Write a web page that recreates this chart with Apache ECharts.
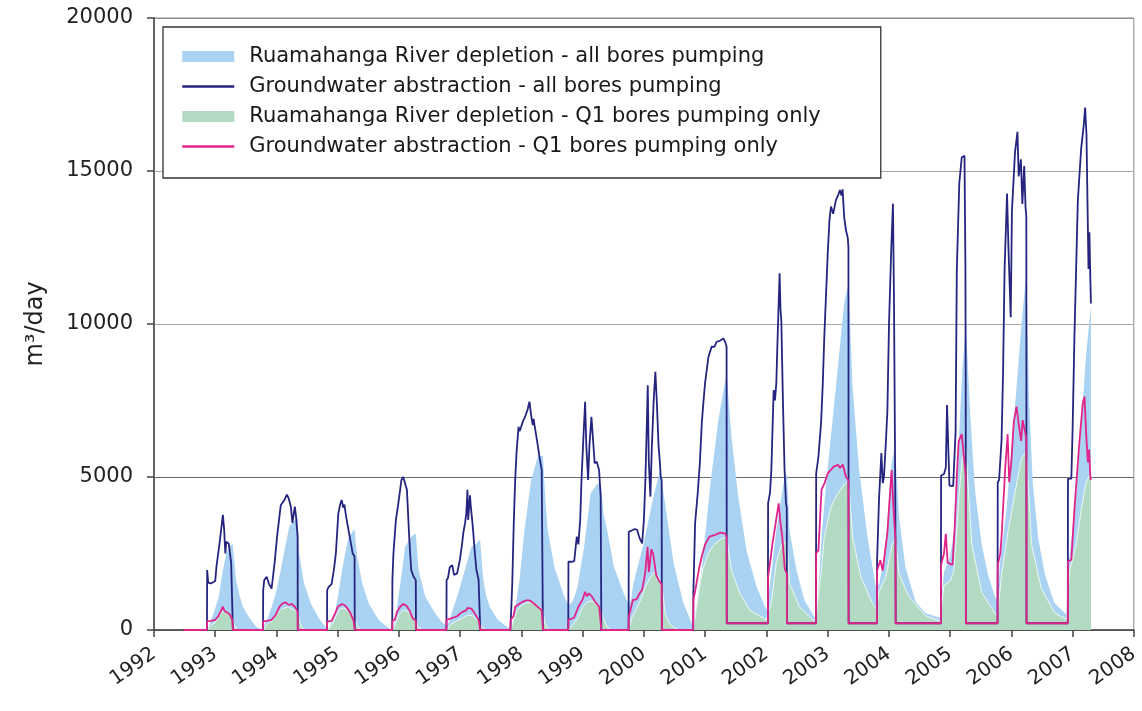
<!DOCTYPE html>
<html>
<head>
<meta charset="utf-8">
<title>River depletion and groundwater abstraction</title>
<script src="https://cdn.jsdelivr.net/npm/echarts/dist/echarts.min.js"></script>
<style>
  html, body { margin: 0; padding: 0; background: #ffffff; }
  #chart { width: 1142px; height: 711px; }
</style>
</head>
<body>
<div id="chart"></div>
<script>
// Series names (legend order)
const seriesNames = [
  'Ruamahanga River depletion - all bores pumping',
  'Groundwater abstraction - all bores pumping',
  'Ruamahanga River depletion - Q1 bores pumping only',
  'Groundwater abstraction - Q1 bores pumping only'
];

// Ruamahanga River depletion, all bores pumping  [decimal year, m3/day]
const depletionAll = [
  [1992.87,0],[1992.92,250],[1993.0,700],[1993.06,1100],[1993.12,1900],[1993.18,2500],[1993.24,2750],[1993.285,2800],[1993.34,1630],[1993.4,1100],[1993.45,760],[1993.56,390],[1993.67,110],[1993.76,0],
  [1993.79,0],[1993.86,400],[1993.94,870],[1994.0,1300],[1994.07,1960],[1994.14,2700],[1994.21,3380],[1994.28,3550],[1994.345,3650],[1994.37,2510],[1994.45,1530],[1994.56,870],[1994.69,390],[1994.8,110],[1994.84,0],
  [1994.86,0],[1994.91,300],[1994.966,650],[1995.02,1300],[1995.073,1960],[1995.13,2600],[1995.18,3050],[1995.275,3300],[1995.317,2400],[1995.40,1530],[1995.506,870],[1995.67,330],[1995.83,65],[1995.89,0],
  [1995.91,0],[1995.95,400],[1995.99,1090],[1996.05,1900],[1996.1,2720],[1996.2,3050],[1996.275,3150],[1996.32,1960],[1996.43,1090],[1996.59,545],[1996.7,250],
  [1996.78,150],[1996.82,250],[1996.86,545],[1996.968,1200],[1997.076,1960],[1997.183,2720],[1997.265,2830],[1997.325,2950],[1997.373,1700],[1997.42,1150],[1997.482,760],[1997.617,330],[1997.78,80],
  [1997.83,60],[1997.86,250],[1997.888,545],[1997.969,1630],[1998.05,3270],[1998.158,4900],[1998.266,5660],[1998.35,5700],[1998.39,4300],[1998.43,3270],[1998.537,2070],[1998.70,1090],
  [1998.77,800],[1998.82,900],[1998.87,1100],[1998.916,1420],[1999.024,2720],[1999.131,4470],[1999.24,4790],[1999.3,4750],[1999.34,3800],[1999.40,3270],[1999.51,2070],[1999.67,1200],
  [1999.755,800],[1999.79,1000],[1999.83,1530],[1999.995,2830],[2000.157,4360],[2000.265,5230],[2000.295,5250],[2000.377,3700],[2000.485,2180],[2000.646,870],[2000.78,230],
  [2000.81,150],[2000.836,400],[2000.88,1100],[2000.945,1960],[2001.08,4680],[2001.216,6860],[2001.35,8390],[2001.43,6320],[2001.54,4360],[2001.675,2610],[2001.838,1420],[2002.0,650],
  [2002.03,650],[2002.054,1420],[2002.162,3270],[2002.297,5010],[2002.336,5100],[2002.378,3270],[2002.49,1960],[2002.62,980],[2002.79,400],
  [2002.81,400],[2002.84,1000],[2002.9,3000],[2002.97,4680],[2003.136,7950],[2003.27,10680],[2003.342,11330],[2003.407,7950],[2003.515,5230],[2003.65,3050],[2003.786,1420],
  [2003.81,1420],[2003.84,1490],[2003.948,2620],[2004.045,5450],[2004.1,6010],[2004.11,6050],[2004.164,3750],[2004.27,2060],[2004.435,920],[2004.6,550],[2004.84,400],
  [2004.855,450],[2004.87,1200],[2004.9,1900],[2005.0,2400],[2005.084,3400],[2005.138,6000],[2005.2,8500],[2005.258,10000],[2005.33,7000],[2005.41,4500],[2005.516,2800],[2005.62,1800],[2005.73,1100],
  [2005.78,900],[2005.81,2130],[2005.92,3930],[2006.06,7300],[2006.17,10100],[2006.232,11400],[2006.248,11570],[2006.29,7500],[2006.35,4800],[2006.44,3000],[2006.55,1800],[2006.7,900],[2006.9,500],
  [2006.925,550],[2006.95,2360],[2007.06,4490],[2007.14,6620],[2007.22,8990],[2007.3,10560]
];

// Groundwater abstraction, all bores pumping
const abstractionAll = [
  [1992.48,0],
  [1992.865,0],[1992.868,1960],[1992.885,1550],[1992.93,1520],[1993.0,1600],[1993.02,2070],[1993.07,2830],[1993.125,3760],[1993.145,3300],[1993.165,2500],[1993.18,2880],[1993.22,2830],[1993.26,2200],[1993.285,2150],[1993.288,0],
  [1993.78,0],[1993.783,1300],[1993.80,1630],[1993.84,1740],[1993.88,1500],[1993.92,1350],[1993.97,2200],[1994.01,3050],[1994.07,4080],[1994.13,4250],[1994.17,4420],[1994.2,4300],[1994.235,4030],[1994.26,3500],[1994.3,4030],[1994.32,3700],[1994.345,3050],[1994.348,0],
  [1994.825,0],[1994.828,1300],[1994.85,1400],[1994.9,1500],[1994.94,2000],[1994.97,2510],[1995.01,3810],[1995.04,4100],[1995.065,4250],[1995.09,4000],[1995.11,4100],[1995.13,3800],[1995.155,3500],[1995.2,3000],[1995.245,2500],[1995.275,2400],[1995.278,0],
  [1995.89,0],[1995.893,1630],[1995.91,2500],[1995.95,3600],[1995.99,4140],[1996.04,4900],[1996.07,5000],[1996.1,4950],[1996.13,4580],[1996.17,2940],[1996.2,1960],[1996.24,1740],[1996.275,1630],[1996.278,0],
  [1996.775,0],[1996.778,1630],[1996.80,1700],[1996.83,2050],[1996.87,2120],[1996.9,1800],[1996.95,1850],[1996.995,2290],[1997.03,2800],[1997.05,3160],[1997.08,3500],[1997.1,3810],[1997.119,4580],[1997.13,3600],[1997.145,4000],[1997.16,4400],[1997.175,4000],[1997.2,3500],[1997.21,3270],[1997.24,2500],[1997.265,1960],[1997.3,1650],[1997.325,1630],[1997.328,0],
  [1997.82,0],[1997.85,1500],[1997.875,3500],[1997.898,4900],[1997.92,5800],[1997.953,6640],[1997.97,6500],[1997.99,6600],[1998.02,6800],[1998.06,6970],[1998.1,7200],[1998.131,7460],[1998.16,7000],[1998.185,6700],[1998.2,6900],[1998.213,6700],[1998.245,6750],[1998.27,6000],[1998.294,5660],[1998.331,5230],[1998.348,5200],[1998.351,0],
  [1998.765,0],[1998.768,2230],[1998.82,2230],[1998.862,2250],[1998.904,3050],[1998.93,2800],[1998.96,3600],[1998.981,4900],[1999.01,6200],[1999.04,7460],[1999.06,6000],[1999.089,4900],[1999.11,6000],[1999.143,6970],[1999.17,6200],[1999.196,5450],[1999.23,5500],[1999.268,5230],[1999.294,4360],[1999.302,4300],[1999.305,0],
  [1999.75,0],[1999.753,3210],[1999.8,3250],[1999.85,3300],[1999.89,3270],[1999.93,3000],[1999.971,2830],[2000.0,3600],[2000.024,4900],[2000.045,6500],[2000.063,8000],[2000.08,5500],[2000.106,4360],[2000.13,6000],[2000.16,7500],[2000.187,8440],[2000.21,7500],[2000.24,6000],[2000.258,5560],[2000.275,5000],[2000.29,4900],[2000.293,0],
  [2000.805,0],[2000.808,1200],[2000.836,3490],[2000.88,4500],[2000.915,5500],[2000.945,6760],[2000.97,7400],[2000.998,8060],[2001.054,8930],[2001.107,9260],[2001.15,9250],[2001.188,9420],[2001.24,9450],[2001.297,9530],[2001.33,9400],[2001.35,9260],[2001.353,220],
  [2002.025,220],[2002.028,4140],[2002.06,4500],[2002.081,5230],[2002.119,7840],[2002.14,7500],[2002.162,8060],[2002.19,10000],[2002.216,11660],[2002.23,10500],[2002.244,10100],[2002.27,7500],[2002.297,5230],[2002.32,4140],[2002.333,4000],[2002.336,220],
  [2002.81,220],[2002.813,5120],[2002.85,5660],[2002.893,6760],[2002.92,8000],[2002.946,9590],[2002.975,11000],[2003.002,12310],[2003.03,13400],[2003.055,13840],[2003.09,13600],[2003.136,14050],[2003.17,14200],[2003.201,14380],[2003.225,14200],[2003.245,14400],[2003.27,13500],[2003.299,13070],[2003.33,12800],[2003.34,12500],[2003.343,220],
  [2003.805,220],[2003.808,2280],[2003.84,4310],[2003.878,5780],[2003.9,4800],[2003.92,5000],[2003.948,6010],[2003.976,7140],[2004.002,9970],[2004.04,12500],[2004.067,13930],[2004.083,11000],[2004.1,6010],[2004.108,2940],[2004.111,220],
  [2004.85,220],[2004.853,5050],[2004.9,5100],[2004.93,5300],[2004.95,7350],[2004.97,6000],[2004.99,4720],[2005.05,4700],[2005.075,4660],[2005.09,6500],[2005.11,11790],[2005.15,14600],[2005.19,15440],[2005.235,15500],[2005.25,12000],[2005.255,8000],[2005.258,220],
  [2005.775,220],[2005.778,4830],[2005.8,4900],[2005.84,6180],[2005.865,8420],[2005.89,11800],[2005.93,14260],[2005.955,12350],[2005.99,10220],[2006.01,13700],[2006.06,15610],[2006.1,16280],[2006.12,14820],[2006.156,15380],[2006.18,13920],[2006.21,15160],[2006.232,13820],[2006.245,13500],[2006.248,220],
  [2006.922,220],[2006.925,4940],[2006.98,4950],[2007.0,6500],[2007.03,9540],[2007.086,14040],[2007.14,15720],[2007.183,16510],[2007.205,17070],[2007.227,16200],[2007.25,13140],[2007.26,11800],[2007.275,13000],[2007.29,11500],[2007.3,10670]
];

// Ruamahanga River depletion, Q1 bores pumping only
const depletionQ1 = [
  [1992.865,0],[1992.93,150],[1993.0,250],[1993.06,450],[1993.12,600],[1993.2,550],[1993.285,420],[1993.31,150],[1993.35,30],[1993.4,0],
  [1993.785,0],[1993.85,200],[1993.93,300],[1994.0,500],[1994.08,680],[1994.18,750],[1994.3,650],[1994.345,560],[1994.38,250],[1994.42,80],[1994.47,0],
  [1994.83,0],[1994.9,150],[1994.97,450],[1995.03,680],[1995.1,720],[1995.2,600],[1995.275,420],[1995.31,150],[1995.36,40],[1995.4,0],
  [1995.895,0],[1995.94,200],[1996.0,500],[1996.07,650],[1996.15,600],[1996.22,420],[1996.275,320],[1996.31,120],[1996.36,30],[1996.4,0],
  [1996.78,0],[1996.85,200],[1996.95,300],[1997.05,400],[1997.12,480],[1997.2,470],[1997.3,300],[1997.34,120],[1997.4,30],[1997.45,0],
  [1997.825,0],[1997.87,300],[1997.93,650],[1998.0,800],[1998.07,880],[1998.14,900],[1998.22,850],[1998.3,750],[1998.35,620],[1998.38,250],[1998.42,70],[1998.47,0],
  [1998.77,0],[1998.85,200],[1998.92,400],[1999.0,750],[1999.06,900],[1999.13,950],[1999.22,900],[1999.3,720],[1999.34,350],[1999.4,100],[1999.47,0],
  [1999.755,0],[1999.8,400],[1999.88,700],[1999.95,1000],[2000.02,1400],[2000.1,1700],[2000.18,1900],[2000.25,1700],[2000.295,1420],[2000.35,500],[2000.42,200],[2000.5,80],[2000.58,0],
  [2000.81,0],[2000.85,600],[2000.9,1300],[2000.96,1960],[2001.05,2500],[2001.15,2800],[2001.25,2950],[2001.35,3050],[2001.43,1960],[2001.567,1200],[2001.73,650],[2002.0,330],
  [2002.03,350],[2002.08,900],[2002.162,2200],[2002.25,2800],[2002.336,2900],[2002.378,1530],[2002.54,760],[2002.758,330],
  [2002.81,330],[2002.84,1000],[2002.9,2000],[2002.946,3050],[2003.05,4000],[2003.136,4360],[2003.25,4700],[2003.342,4900],[2003.407,3050],[2003.542,1740],[2003.732,870],[2003.8,700],
  [2003.81,700],[2003.84,1260],[2003.948,1720],[2004.045,2730],[2004.11,3000],[2004.164,1850],[2004.327,1090],[2004.597,470],[2004.84,280],
  [2004.855,280],[2004.87,900],[2004.9,1460],[2005.0,1600],[2005.06,1910],[2005.1,3000],[2005.15,4500],[2005.2,5600],[2005.258,5900],[2005.355,2800],[2005.516,1230],[2005.73,560],
  [2005.777,450],[2005.8,1000],[2005.84,1800],[2005.95,3270],[2006.06,4490],[2006.167,5620],[2006.248,5840],[2006.33,2800],[2006.49,1350],[2006.71,560],[2006.9,350],
  [2006.925,400],[2006.95,1910],[2007.06,2810],[2007.14,3930],[2007.22,4830],[2007.3,5160]
];

// Groundwater abstraction, Q1 bores pumping only
const abstractionQ1 = [
  [1992.48,0],
  [1992.862,0],[1992.865,280],[1992.93,300],[1993.0,330],[1993.05,450],[1993.1,650],[1993.12,760],[1993.16,600],[1993.2,570],[1993.24,500],[1993.28,330],[1993.285,300],[1993.288,0],
  [1993.78,0],[1993.783,280],[1993.85,300],[1993.92,330],[1993.99,500],[1994.05,760],[1994.1,870],[1994.15,900],[1994.2,820],[1994.25,850],[1994.3,760],[1994.345,600],[1994.348,0],
  [1994.825,0],[1994.828,270],[1994.9,300],[1994.97,600],[1995.0,760],[1995.07,850],[1995.12,800],[1995.16,700],[1995.21,550],[1995.26,300],[1995.275,260],[1995.278,0],
  [1995.89,0],[1995.893,300],[1995.93,330],[1995.97,600],[1996.02,760],[1996.07,850],[1996.12,800],[1996.17,650],[1996.22,400],[1996.275,300],[1996.278,0],
  [1996.775,0],[1996.778,330],[1996.85,380],[1996.95,450],[1997.0,545],[1997.05,600],[1997.1,650],[1997.12,720],[1997.15,680],[1997.18,700],[1997.22,600],[1997.3,330],[1997.325,330],[1997.328,0],
  [1997.82,0],[1997.823,330],[1997.87,450],[1997.9,760],[1997.96,850],[1998.03,930],[1998.1,980],[1998.15,950],[1998.2,870],[1998.27,750],[1998.33,650],[1998.348,600],[1998.351,0],
  [1998.765,0],[1998.768,330],[1998.86,400],[1998.93,760],[1999.0,1000],[1999.04,1250],[1999.07,1100],[1999.1,1200],[1999.15,1100],[1999.2,930],[1999.27,760],[1999.302,700],[1999.305,0],
  [1999.75,0],[1999.753,435],[1999.82,980],[1999.88,1000],[1999.93,1200],[1999.971,1310],[2000.02,1850],[2000.06,2720],[2000.08,1900],[2000.1,2200],[2000.12,2640],[2000.15,2500],[2000.2,1800],[2000.25,1600],[2000.29,1500],[2000.293,0],
  [2000.805,0],[2000.808,1000],[2000.84,1300],[2000.9,2000],[2000.945,2400],[2001.0,2800],[2001.07,3050],[2001.15,3100],[2001.25,3180],[2001.33,3150],[2001.35,3050],[2001.353,220],
  [2002.025,220],[2002.028,1740],[2002.06,2200],[2002.1,2830],[2002.16,3600],[2002.2,4140],[2002.23,3500],[2002.26,3050],[2002.3,2000],[2002.333,1850],[2002.336,220],
  [2002.81,220],[2002.813,2510],[2002.85,2600],[2002.9,4580],[2002.95,4800],[2003.002,5120],[2003.1,5340],[2003.17,5400],[2003.2,5300],[2003.25,5400],[2003.3,5000],[2003.34,4900],[2003.343,220],
  [2003.805,220],[2003.808,1940],[2003.86,2280],[2003.9,1940],[2003.976,3190],[2004.02,4500],[2004.045,5230],[2004.075,4000],[2004.1,3190],[2004.108,3000],[2004.111,220],
  [2004.85,220],[2004.853,2130],[2004.9,2500],[2004.93,3140],[2004.96,2200],[2005.04,2130],[2005.075,3360],[2005.11,5000],[2005.14,6170],[2005.19,6400],[2005.22,6400],[2005.255,5050],[2005.258,220],
  [2005.775,220],[2005.778,2130],[2005.82,2500],[2005.84,3030],[2005.9,5280],[2005.94,6400],[2005.965,4830],[2006.0,5500],[2006.04,6800],[2006.085,7300],[2006.12,6740],[2006.16,6180],[2006.185,6860],[2006.232,6400],[2006.245,6200],[2006.248,220],
  [2006.922,220],[2006.925,2240],[2006.98,2300],[2007.03,3930],[2007.113,6180],[2007.167,7410],[2007.195,7630],[2007.22,6500],[2007.235,5950],[2007.25,5480],[2007.27,5900],[2007.29,5000],[2007.3,4900]
];

// Axis ranges
const yearRange = [1992, 2008];
const flowRange = [0, 20000];
const flowStep = 5000;

const FONT = 'DejaVu Sans';
const COLORS = {
  depletionAll: '#a9d2f3',
  abstractionAll: '#25257f',
  depletionQ1: '#b3dbc4',
  abstractionQ1: '#e0248a'
};

const chart = echarts.init(document.getElementById('chart'), null, { renderer: 'canvas' });

chart.setOption({
  animation: false,
  backgroundColor: '#ffffff',
  grid: {
    left: 154, right: 2, top: 18, bottom: 81,
    show: true, borderColor: '#8a8a8a', borderWidth: 1, backgroundColor: 'transparent'
  },
  legend: {
    orient: 'vertical',
    left: 163, top: 27,
    padding: [19, 60, 21, 18],
    itemGap: 9,
    itemWidth: 52, itemHeight: 11,
    borderColor: '#333333', borderWidth: 1.3,
    backgroundColor: '#ffffff',
    itemStyle: { borderWidth: 0 },
    textStyle: { fontFamily: FONT, fontSize: 21, color: '#1a1a1a', padding: [0, 0, 0, 10] },
    data: [
      { name: seriesNames[0], icon: 'rect' },
      { name: seriesNames[1], lineStyle: { width: 2.5 }, itemStyle: { opacity: 0 } },
      { name: seriesNames[2], icon: 'rect' },
      { name: seriesNames[3], lineStyle: { width: 2.5 }, itemStyle: { opacity: 0 } }
    ]
  },
  xAxis: {
    type: 'value',
    min: yearRange[0], max: yearRange[1], interval: 1,
    axisLine: { show: true, onZero: false, lineStyle: { color: '#444', width: 1.5 } },
    axisTick: { show: true, inside: false, length: 7, lineStyle: { color: '#444', width: 1.5 } },
    splitLine: { show: false },
    axisLabel: {
      rotate: 35, margin: 22,
      fontFamily: FONT, fontSize: 20, color: '#222',
      formatter: v => String(v)
    }
  },
  yAxis: {
    type: 'value',
    min: flowRange[0], max: flowRange[1], interval: flowStep,
    name: 'm\u00B3/day',
    nameLocation: 'middle', nameGap: 106, nameRotate: 90,
    nameTextStyle: { fontFamily: FONT, fontSize: 24, color: '#222' },
    axisLine: { show: true, lineStyle: { color: '#444', width: 1.5 } },
    axisTick: { show: true, inside: false, length: 7, lineStyle: { color: '#444', width: 1.5 } },
    splitLine: { show: true, lineStyle: { color: ['#777', '#6a6a6a', '#a8a8a8', '#a8a8a8', '#8a8a8a'], width: 1 } },
    axisLabel: {
      margin: 21,
      fontFamily: FONT, fontSize: 21, color: '#222',
      formatter: v => String(v)
    }
  },
  series: [
    {
      name: seriesNames[0], type: 'line', data: depletionAll,
      symbol: 'none', showSymbol: false, z: 1, silent: true,
      itemStyle: { color: COLORS.depletionAll },
      lineStyle: { width: 0, color: COLORS.depletionAll },
      areaStyle: { color: COLORS.depletionAll, opacity: 1 }
    },
    {
      name: seriesNames[2], type: 'line', data: depletionQ1,
      symbol: 'none', showSymbol: false, z: 2, silent: true,
      itemStyle: { color: COLORS.depletionQ1 },
      lineStyle: { width: 1, color: '#eef8f2' },
      areaStyle: { color: COLORS.depletionQ1, opacity: 1 }
    },
    {
      name: seriesNames[1], type: 'line', data: abstractionAll,
      symbol: 'none', showSymbol: false, z: 3, silent: true,
      itemStyle: { color: COLORS.abstractionAll },
      lineStyle: { width: 1.8, color: COLORS.abstractionAll }
    },
    {
      name: seriesNames[3], type: 'line', data: abstractionQ1,
      symbol: 'none', showSymbol: false, z: 4, silent: true,
      itemStyle: { color: COLORS.abstractionQ1 },
      lineStyle: { width: 1.8, color: COLORS.abstractionQ1 }
    }
  ]
});
</script>
</body>
</html>
